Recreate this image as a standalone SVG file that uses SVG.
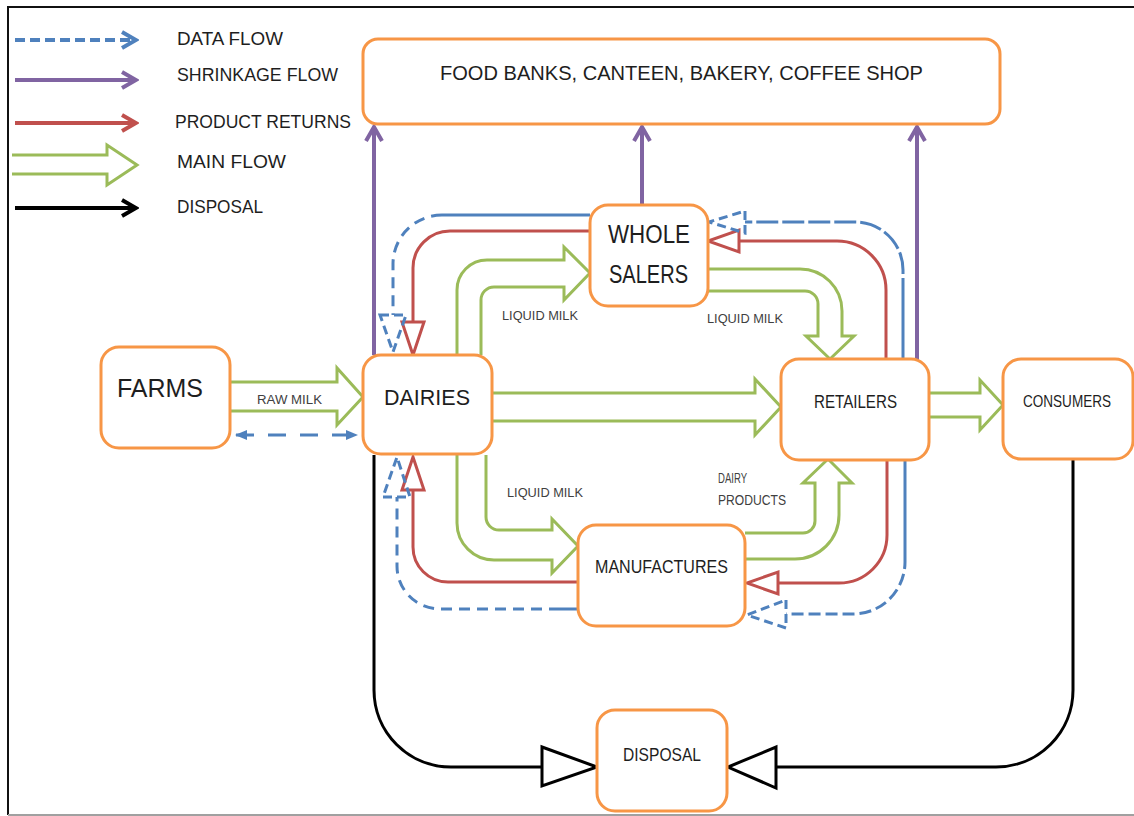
<svg xmlns="http://www.w3.org/2000/svg" width="1134" height="816" viewBox="0 0 1134 816">
  <style>
    .box { fill: #ffffff; stroke: #F79646; stroke-width: 3; }
    .lbl { font-family: "Liberation Sans", Arial, sans-serif; fill: #1e1e1e; }
    .small { font-family: "Liberation Sans", Arial, sans-serif; fill: #404040; }
    .main { fill: #ffffff; stroke: #9BBB59; stroke-width: 3; stroke-linejoin: miter; }
    .ret { fill: none; stroke: #C0504D; stroke-width: 3; }
    .rethead { fill: #ffffff; stroke: #C0504D; stroke-width: 3; stroke-linejoin: miter; }
    .data { fill: none; stroke: #4F81BD; stroke-width: 3; }
    .dash { stroke-dasharray: 11 7; }
    .dashlong { stroke-dasharray: 22 4; }
    .datahead { fill: none; stroke: #4F81BD; stroke-width: 3; stroke-dasharray: 9 5; }
    .shrink { fill: none; stroke: #8064A2; stroke-width: 4; }
    .disp { fill: none; stroke: #000000; stroke-width: 3; }
    .disphead { fill: #ffffff; stroke: #000000; stroke-width: 3; stroke-linejoin: miter; }
  </style>
  <defs>
    <marker id="chevPurple" viewBox="0 0 18 20" refX="15" refY="10" markerWidth="18" markerHeight="20" markerUnits="userSpaceOnUse" orient="auto">
      <path d="M1,2 L15,10 L1,18" fill="none" stroke="#8064A2" stroke-width="4"/>
    </marker>
    <marker id="chevBlue" viewBox="0 0 18 20" refX="15" refY="10" markerWidth="18" markerHeight="20" markerUnits="userSpaceOnUse" orient="auto">
      <path d="M1,2 L15,10 L1,18" fill="none" stroke="#4F81BD" stroke-width="4"/>
    </marker>
    <marker id="chevRed" viewBox="0 0 18 20" refX="15" refY="10" markerWidth="18" markerHeight="20" markerUnits="userSpaceOnUse" orient="auto">
      <path d="M1,2 L15,10 L1,18" fill="none" stroke="#C0504D" stroke-width="4"/>
    </marker>
    <marker id="chevBlack" viewBox="0 0 18 20" refX="15" refY="10" markerWidth="18" markerHeight="20" markerUnits="userSpaceOnUse" orient="auto">
      <path d="M1,2 L15,10 L1,18" fill="none" stroke="#000000" stroke-width="4"/>
    </marker>
    <marker id="triBlue" viewBox="0 0 12 12" refX="11" refY="6" markerWidth="12" markerHeight="12" markerUnits="userSpaceOnUse" orient="auto-start-reverse">
      <path d="M0,1 L12,6 L0,11 Z" fill="#4F81BD"/>
    </marker>
  </defs>

  <!-- frame -->
  <path d="M8,815 L8,7 L1134,7" fill="none" stroke="#111111" stroke-width="2"/>
  <line x1="8" y1="815" x2="1134" y2="815" stroke="#a0a0a0" stroke-width="2"/>

  <!-- legend -->
  <g id="legend">
    <line x1="15" y1="40" x2="136" y2="40" stroke="#4F81BD" stroke-width="4" stroke-dasharray="10 5" marker-end="url(#chevBlue)"/>
    <line x1="15" y1="80" x2="136" y2="80" stroke="#8064A2" stroke-width="4" marker-end="url(#chevPurple)"/>
    <line x1="15" y1="123" x2="136" y2="123" stroke="#C0504D" stroke-width="4" marker-end="url(#chevRed)"/>
    <path class="main" d="M12,155 L107,155 L107,145 L137,165 L107,185 L107,174 L12,174"/>
    <line x1="15" y1="208" x2="136" y2="208" stroke="#000000" stroke-width="4" marker-end="url(#chevBlack)"/>
    <text class="lbl" x="177" y="45" font-size="18" textLength="106" lengthAdjust="spacingAndGlyphs">DATA FLOW</text>
    <text class="lbl" x="177" y="81" font-size="18" textLength="161" lengthAdjust="spacingAndGlyphs">SHRINKAGE FLOW</text>
    <text class="lbl" x="175" y="128" font-size="18" textLength="176" lengthAdjust="spacingAndGlyphs">PRODUCT RETURNS</text>
    <text class="lbl" x="177" y="168" font-size="18" textLength="109" lengthAdjust="spacingAndGlyphs">MAIN FLOW</text>
    <text class="lbl" x="177" y="213" font-size="18" textLength="86" lengthAdjust="spacingAndGlyphs">DISPOSAL</text>
  </g>

  <g id="connectors">
    <!-- main flow (green block arrows) -->
    <path class="main" d="M230,382 L337,382 L337,368 L363,397 L337,425 L337,411 L230,411"/>
    <path class="main" d="M492,393 L755,393 L755,379 L781,407 L755,435 L755,421 L492,421"/>
    <path class="main" d="M929,393 L980,393 L980,380 L1003,405 L980,430 L980,417 L929,417"/>
    <path class="main" d="M457,355 L457,290 A30,30 0 0 1 487,260 L564,260 L564,247 L590,273 L564,300 L564,287 L494,287 A13,13 0 0 0 481,300 L481,355"/>
    <path class="main" d="M708,269 L800,269 A42,42 0 0 1 842,311 L842,336 L854,336 L830,359 L806,336 L818,336 L818,304 A13,13 0 0 0 805,291 L708,291"/>
    <path class="main" d="M457,455 L457,523 A37,37 0 0 0 494,560 L552,560 L552,573 L578,546 L552,519 L552,530 L499,530 A13,13 0 0 1 486,517 L486,455"/>
    <path class="main" d="M745,533 L803,533 A12,12 0 0 0 815,521 L815,483 L803,483 L828,459 L852,483 L839,483 L839,515 A44,44 0 0 1 795,559 L745,559"/>

    <!-- product returns (red) -->
    <path class="ret" d="M590,231 L450,231 A37,37 0 0 0 413,268 L413,322"/>
    <path class="rethead" d="M402,322 L424,322 L413,355 Z"/>
    <path class="ret" d="M886,359 L886,290 A49,49 0 0 0 837,241 L739,241"/>
    <path class="rethead" d="M739,230 L739,252 L708,241 Z"/>
    <path class="ret" d="M578,582 L448,582 A35,35 0 0 1 413,547 L413,490"/>
    <path class="rethead" d="M402,490 L424,490 L413,457 Z"/>
    <path class="ret" d="M887,461 L887,535 A48,48 0 0 1 839,583 L778,583"/>
    <path class="rethead" d="M778,572 L778,594 L747,583 Z"/>

    <!-- data flow (blue dashed) -->
    <line class="data" x1="236" y1="435" x2="357" y2="435" stroke-width="4" stroke-dasharray="18 14" marker-start="url(#triBlue)" marker-end="url(#triBlue)"/>
    <path class="data" d="M590,215 L442,215"/>
    <path class="data dash" d="M442,215 A49,49 0 0 0 393,264 L393,315"/>
    <path class="datahead" d="M380,315 L406,315 L393,352 Z"/>
    <path class="data" d="M903,359 L903,300"/>
    <path class="data dashlong" d="M903,300 L903,270 A48,48 0 0 0 855,222 L745,222"/>
    <path class="datahead" d="M745,211 L745,233 L709,222 Z"/>
    <path class="data" d="M905,461 L905,557"/>
    <path class="data" stroke-dasharray="12 5" d="M905,557 L905,562 A52,52 0 0 1 853,614 L786,614"/>
    <path class="datahead" d="M786,600 L786,628 L747,615 Z"/>
    <path class="data" d="M578,609 L560,609"/>
    <path class="data dash" d="M560,609 L440,609 A43,43 0 0 1 397,566 L397,497"/>
    <path class="datahead" d="M383,497 L410,497 L397,457 Z"/>

    <!-- shrinkage flow (purple) -->
    <line class="shrink" x1="374" y1="355" x2="374" y2="127" marker-end="url(#chevPurple)"/>
    <line class="shrink" x1="642" y1="205" x2="642" y2="127" marker-end="url(#chevPurple)"/>
    <line class="shrink" x1="917" y1="360" x2="917" y2="127" marker-end="url(#chevPurple)"/>

    <!-- disposal (black) -->
    <path class="disp" d="M374,455 L374,690 A77,77 0 0 0 451,767 L542,767"/>
    <path class="disphead" d="M542,747 L542,786 L597,767 Z"/>
    <path class="disp" d="M1073,460 L1073,690 A77,77 0 0 1 996,767 L776,767"/>
    <path class="disphead" d="M776,747 L776,788 L728,767 Z"/>

    <!-- flow labels -->
    <text class="small" x="257" y="404" font-size="12" textLength="65" lengthAdjust="spacingAndGlyphs">RAW MILK</text>
    <text class="small" x="502" y="320" font-size="12.5" textLength="76" lengthAdjust="spacingAndGlyphs">LIQUID MILK</text>
    <text class="small" x="707" y="323" font-size="12.5" textLength="76" lengthAdjust="spacingAndGlyphs">LIQUID MILK</text>
    <text class="small" x="507" y="497" font-size="12.5" textLength="76" lengthAdjust="spacingAndGlyphs">LIQUID MILK</text>
    <text class="small" x="718" y="483" font-size="14" textLength="29" lengthAdjust="spacingAndGlyphs">DAIRY</text>
    <text class="small" x="718" y="505" font-size="14" textLength="68" lengthAdjust="spacingAndGlyphs">PRODUCTS</text>
  </g>

  <g id="outlets">
    <rect class="box" x="363" y="39" width="637" height="85" rx="15"/>
    <text class="lbl" x="440" y="80" font-size="21" textLength="483" lengthAdjust="spacingAndGlyphs">FOOD BANKS, CANTEEN, BAKERY, COFFEE SHOP</text>
  </g>
  <g id="wholesalers">
    <rect class="box" x="590" y="205" width="118" height="101" rx="18"/>
    <text class="lbl" x="608" y="243" font-size="25.5" textLength="82" lengthAdjust="spacingAndGlyphs">WHOLE</text>
    <text class="lbl" x="609" y="283" font-size="25.5" textLength="79" lengthAdjust="spacingAndGlyphs">SALERS</text>
  </g>
  <g id="farms">
    <rect class="box" x="101" y="347" width="129" height="101" rx="18"/>
    <text class="lbl" x="117" y="397" font-size="25" textLength="86" lengthAdjust="spacingAndGlyphs">FARMS</text>
  </g>
  <g id="dairies">
    <rect class="box" x="363" y="355" width="129" height="99" rx="18"/>
    <text class="lbl" x="384" y="405" font-size="22" textLength="86" lengthAdjust="spacingAndGlyphs">DAIRIES</text>
  </g>
  <g id="retailers">
    <rect class="box" x="781" y="359" width="148" height="101" rx="18"/>
    <text class="lbl" x="814" y="408" font-size="18" textLength="83" lengthAdjust="spacingAndGlyphs">RETAILERS</text>
  </g>
  <g id="consumers">
    <rect class="box" x="1003" y="359" width="130" height="100" rx="18"/>
    <text class="lbl" x="1023" y="407" font-size="16.5" textLength="88" lengthAdjust="spacingAndGlyphs">CONSUMERS</text>
  </g>
  <g id="manufactures">
    <rect class="box" x="578" y="525" width="167" height="101" rx="18"/>
    <text class="lbl" x="595" y="573" font-size="18.5" textLength="133" lengthAdjust="spacingAndGlyphs">MANUFACTURES</text>
  </g>
  <g id="disposal">
    <rect class="box" x="597" y="710" width="130" height="101" rx="18"/>
    <text class="lbl" x="623" y="761" font-size="19" textLength="78" lengthAdjust="spacingAndGlyphs">DISPOSAL</text>
  </g>
</svg>
